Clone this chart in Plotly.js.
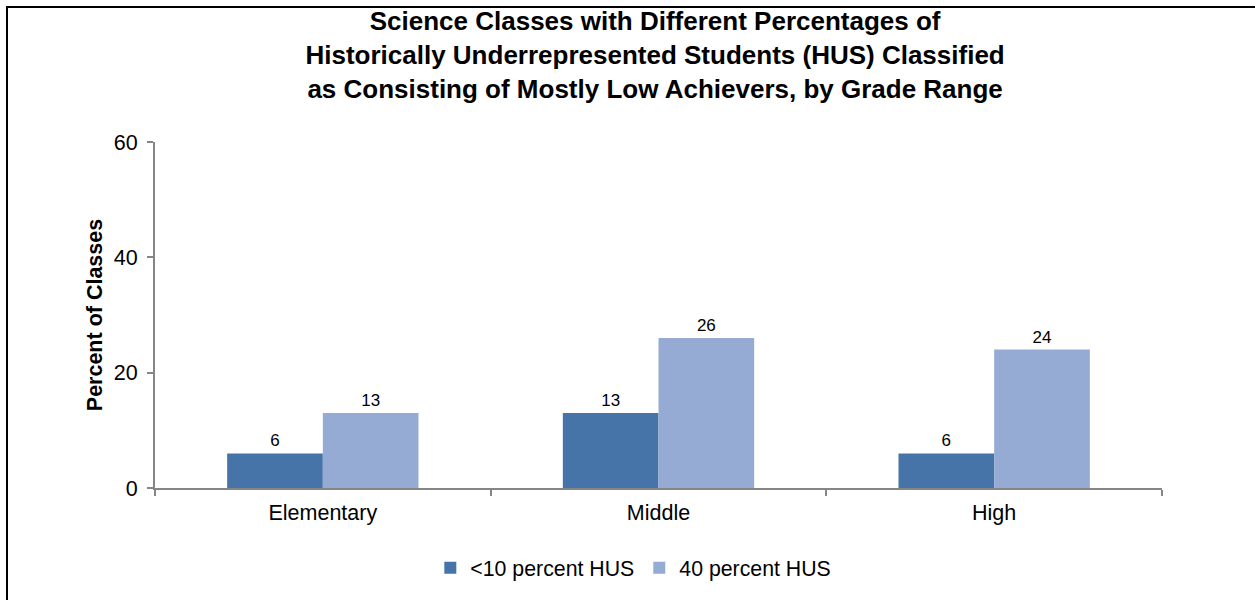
<!DOCTYPE html>
<html>
<head>
<meta charset="utf-8">
<script src="https://cdn.plot.ly/plotly-3.0.1.min.js"></script>
<style>
  body { margin: 0; background: #fff; }
  #frame { position: absolute; left: 6px; top: 6px; width: 1300px; height: 650px; border: 2px solid #000; box-sizing: border-box; pointer-events: none; }
  #chart { width: 1255px; height: 600px; }
</style>
</head>
<body>
<div id="chart"></div>
<div id="frame"></div>
<script>
// grade ranges and percent of classes classed as mostly low achievers
let gradeRanges = ["Elementary", "Middle", "High"];
let lowHUS = [6, 13, 6];
let highHUS = [13, 26, 24];
let seriesNames = ["<10 percent HUS", "40 percent HUS"];

let font = "Liberation Sans, Arial, sans-serif";

let traceLow = {
    x: gradeRanges,
    y: lowHUS,
    name: seriesNames[0],
    type: "bar",
    marker: {color: "#4673a8"},
    text: lowHUS.map(String),
    textposition: "outside",
    textfont: {size: 17, color: "#000"},
    cliponaxis: false
};

let traceHigh = {
    x: gradeRanges,
    y: highHUS,
    name: seriesNames[1],
    type: "bar",
    marker: {color: "#95abd3"},
    text: highHUS.map(String),
    textposition: "outside",
    textfont: {size: 17, color: "#000"},
    cliponaxis: false
};

let layout = {
    width: 1255,
    height: 600,
    margin: {l: 155, r: 93, t: 142, b: 112},
    font: {family: font, color: "#000"},
    title: {
        text: "<b>Science Classes with Different Percentages of<br>Historically Underrepresented Students (HUS) Classified<br>as Consisting of Mostly Low Achievers, by Grade Range</b>",
        font: {size: 26, family: font},
        x: 0.522,
        xanchor: "center",
        y: 0.95,
        yanchor: "top"
    },
    barmode: "group",
    bargap: 0.43,
    bargroupgap: 0,
    showlegend: true,
    legend: {
        orientation: "h",
        x: 0.475,
        xanchor: "center",
        y: -0.231,
        yanchor: "middle",
        font: {size: 21.3},
        itemwidth: 30,
        traceorder: "normal"
    },
    xaxis: {
        type: "category",
        showline: true,
        linecolor: "#868686",
        linewidth: 2,
        ticks: "outside",
        tickson: "boundaries",
        ticklen: 6,
        tickwidth: 2,
        tickcolor: "#868686",
        tickfont: {size: 21.5},
        ticklabelstandoff: 4,
        showgrid: false
    },
    yaxis: {
        range: [0, 60],
        dtick: 20,
        showline: true,
        linecolor: "#868686",
        linewidth: 2,
        ticks: "outside",
        ticklen: 6,
        tickwidth: 2,
        tickcolor: "#868686",
        tickfont: {size: 21.5},
        ticklabelstandoff: 5,
        showgrid: false,
        zeroline: false,
        title: {text: "<b>Percent of Classes</b>", font: {size: 21.5}, standoff: 5}
    },
    paper_bgcolor: "#fff",
    plot_bgcolor: "#fff"
};

Plotly.newPlot("chart", [traceLow, traceHigh], layout, {displayModeBar: false});
</script>
</body>
</html>
